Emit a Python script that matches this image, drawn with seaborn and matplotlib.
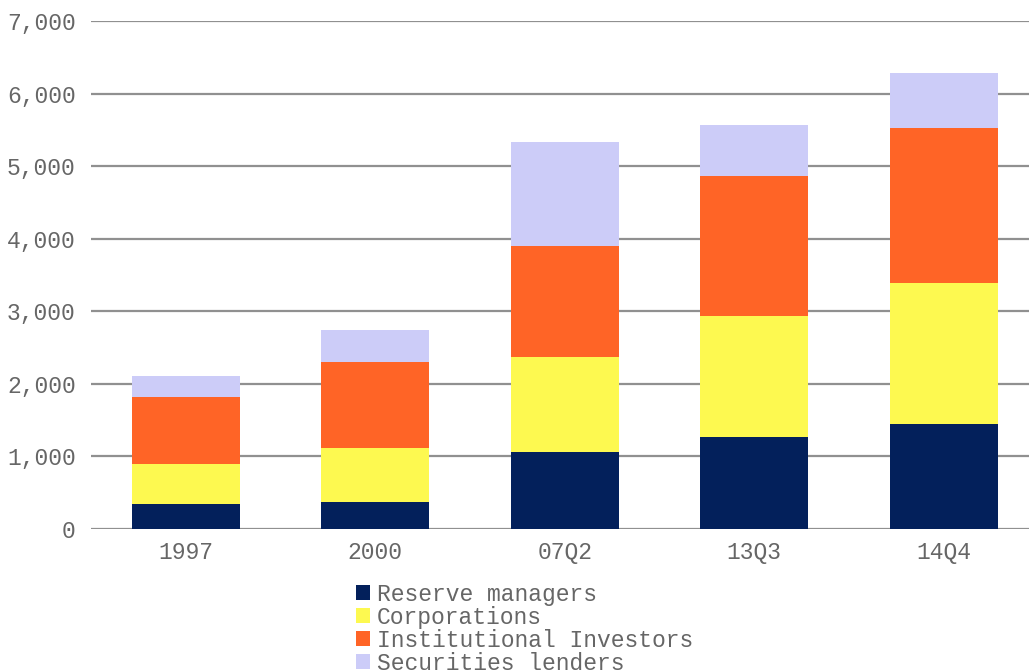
import numpy as np
import matplotlib
matplotlib.use('Agg')
import matplotlib.pyplot as plt
import seaborn as sns
from matplotlib.patches import Patch

periods = ['1997', '2000', '07Q2', '13Q3', '14Q4']
reserve = [337, 373, 1062, 1259, 1447]
corporations = [561, 742, 1301, 1671, 1946]
institutional = [917, 1178, 1529, 1937, 2138]
securities = [294, 447, 1438, 701, 746]
series_names = ['Reserve managers', 'Corporations', 'Institutional Investors', 'Securities lenders']
colors = ['#03205b', '#fdf950', '#ff6426', '#ccccf8']
yticks = [0, 1000, 2000, 3000, 4000, 5000, 6000, 7000]

sns.set_style('white')
plt.rcParams['font.family'] = ['Liberation Mono', 'DejaVu Sans Mono']

fig = plt.figure(figsize=(10.29, 6.70), dpi=100)
ax = fig.add_axes([91/1029, 1-528.7/670, 1-91/1029, (528.7-21)/670])

bottom = np.zeros(len(periods))
for name, vals, c in zip(series_names, [reserve, corporations, institutional, securities], colors):
    sns.barplot(x=periods, y=vals, bottom=bottom, color=c, saturation=1, width=0.57,
                linewidth=0, ax=ax)
    bottom = bottom + np.array(vals)

ax.set_ylim(0, 7000)
ax.set_xlim(-0.5, 4.45)
ax.set_yticks(yticks)
ax.set_yticklabels([f'{v:,}' for v in yticks])
ax.yaxis.grid(True, color='#909090', linewidth=1.6)
ax.set_axisbelow(True)
for s in ax.spines.values():
    s.set_visible(False)
ax.tick_params(axis='both', length=0, labelsize=16.6, colors='#666666')
ax.tick_params(axis='y', pad=11)
ax.tick_params(axis='x', pad=9)
ax.set_xlabel('')
ax.set_ylabel('')

handles = [Patch(facecolor=c, edgecolor='none') for c in colors]
fig.legend(handles, series_names, loc='upper left', bbox_to_anchor=(356/1029, 1-583/670),
           frameon=False, fontsize=16.6, handlelength=0.62, handleheight=0.62,
           handletextpad=0.28, labelspacing=0.0, borderpad=0, borderaxespad=0,
           labelcolor='#666666')

fig.savefig('out.png', dpi=100)
